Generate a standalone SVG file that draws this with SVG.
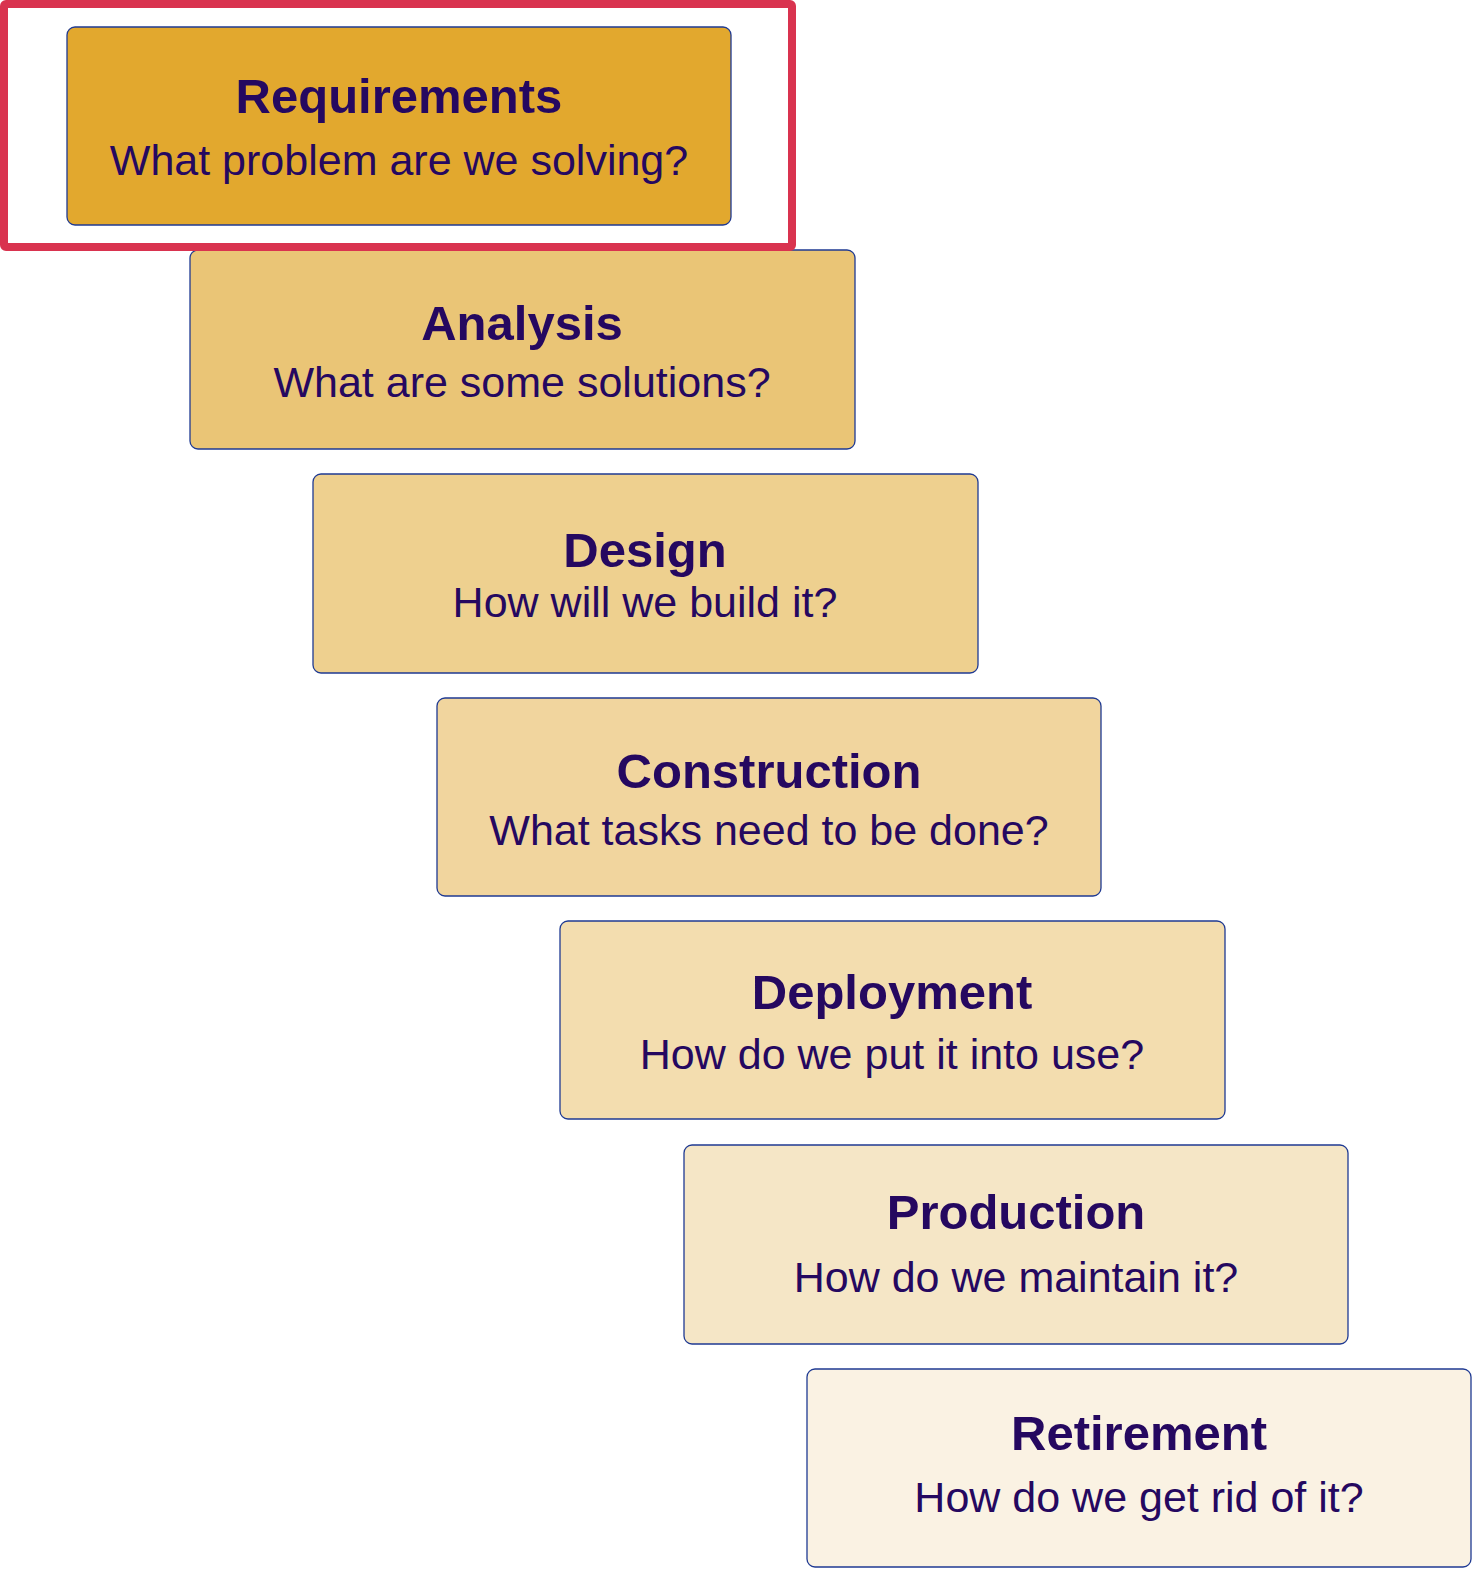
<svg xmlns="http://www.w3.org/2000/svg" width="1484" height="1580" viewBox="0 0 1484 1580">
<style>
.box{stroke:#1F3A93;stroke-width:1.3}
.t{font-family:"Liberation Sans",Arial,sans-serif;font-weight:bold;font-size:49px;fill:#250860;text-anchor:middle}
.s{font-family:"Liberation Sans",Arial,sans-serif;font-size:43px;fill:#250860;text-anchor:middle}
</style>
<rect width="1484" height="1580" fill="#FFFFFF"/>
<g id="requirements">
<rect class="box" x="67" y="27" width="664" height="198" rx="8" fill="#E2A82E"/>
<text class="t" x="399" y="113">Requirements</text>
<text class="s" x="399" y="175">What problem are we solving?</text>
</g>
<g id="analysis">
<rect class="box" x="190" y="250" width="665" height="199" rx="8" fill="#EAC576"/>
<text class="t" x="522" y="340">Analysis</text>
<text class="s" x="522" y="397">What are some solutions?</text>
</g>
<g id="design">
<rect class="box" x="313" y="474" width="665" height="199" rx="8" fill="#EED08F"/>
<text class="t" x="645" y="567">Design</text>
<text class="s" x="645" y="617">How will we build it?</text>
</g>
<g id="construction">
<rect class="box" x="437" y="698" width="664" height="198" rx="8" fill="#F1D59E"/>
<text class="t" x="769" y="788">Construction</text>
<text class="s" x="769" y="845">What tasks need to be done?</text>
</g>
<g id="deployment">
<rect class="box" x="560" y="921" width="665" height="198" rx="8" fill="#F3DDAF"/>
<text class="t" x="892" y="1009">Deployment</text>
<text class="s" x="892" y="1069">How do we put it into use?</text>
</g>
<g id="production">
<rect class="box" x="684" y="1145" width="664" height="199" rx="8" fill="#F5E6C6"/>
<text class="t" x="1016" y="1229">Production</text>
<text class="s" x="1016" y="1292">How do we maintain it?</text>
</g>
<g id="retirement">
<rect class="box" x="807" y="1369" width="664" height="198" rx="8" fill="#FAF2E3"/>
<text class="t" x="1139" y="1450">Retirement</text>
<text class="s" x="1139" y="1512">How do we get rid of it?</text>
</g>
<g id="connectors"></g>
<g id="highlight">
<rect x="4" y="4" width="788" height="243" fill="none" stroke="#D9334F" stroke-width="8" rx="2"/>
</g>
</svg>
